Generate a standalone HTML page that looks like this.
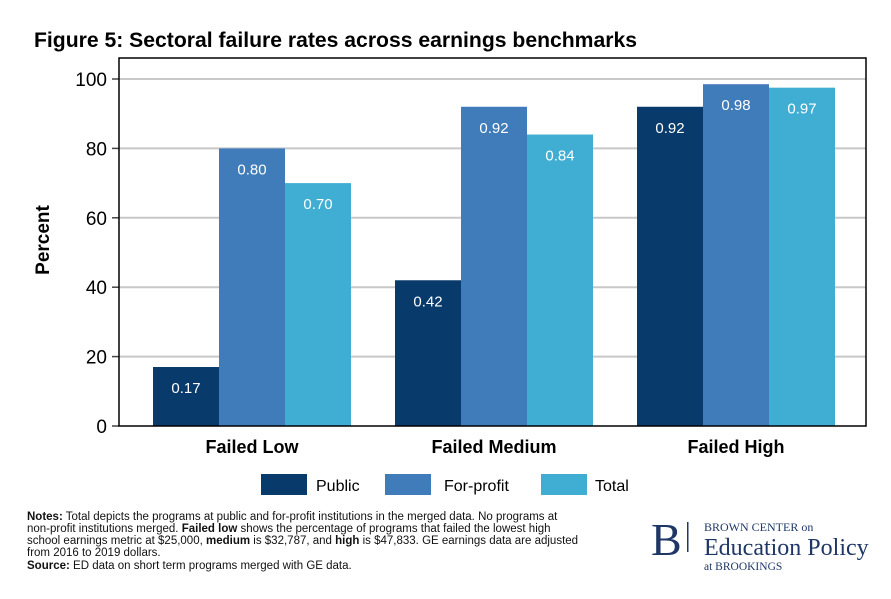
<!DOCTYPE html>
<html><head><meta charset="utf-8"><style>
body{margin:0;background:#fff;width:891px;height:594px;overflow:hidden;font-family:"Liberation Sans",Arial,sans-serif;}
</style></head><body>
<svg width="891" height="594" xmlns="http://www.w3.org/2000/svg" font-family="Liberation Sans, Arial, sans-serif">
<text x="34" y="47" font-size="21" font-weight="bold" fill="#000" textLength="603" lengthAdjust="spacingAndGlyphs">Figure 5: Sectoral failure rates across earnings benchmarks</text>
<g id="grid"></g>
<g id="bars"></g>
<g id="axes"></g>
<text transform="translate(49,240) rotate(-90)" text-anchor="middle" font-size="19" font-weight="bold">Percent</text>
<g>
<rect x="261" y="474" width="46" height="21" fill="#083a6b"/>
<text x="316" y="491" font-size="16">Public</text>
<rect x="385" y="474" width="46" height="21" fill="#417cba"/>
<text x="444" y="491" font-size="16">For-profit</text>
<rect x="541" y="474" width="46" height="21" fill="#40aed2"/>
<text x="595" y="491" font-size="16">Total</text>
</g>
<g font-size="11.5" fill="#111">
<text x="27" y="520"><tspan font-weight="bold">Notes:</tspan> Total depicts the programs at public and for-profit institutions in the merged data. No programs at</text>
<text x="27" y="532">non-profit institutions merged. <tspan font-weight="bold">Failed low</tspan> shows the percentage of programs that failed the lowest high</text>
<text x="27" y="544">school earnings metric at $25,000, <tspan font-weight="bold">medium</tspan> is $32,787, and <tspan font-weight="bold">high</tspan> is $47,833. GE earnings data are adjusted</text>
<text x="27" y="556">from 2016 to 2019 dollars.</text>
<text x="27" y="569"><tspan font-weight="bold">Source:</tspan> ED data on short term programs merged with GE data.</text>
</g>
<g fill="#1f3766" font-family="Liberation Serif, serif">
<text x="651" y="555" font-size="46">B</text>
<rect x="687" y="522" width="1.5" height="30" fill="#1f3766"/>
<text x="704" y="531" font-size="12">BROWN CENTER on</text>
<text x="704" y="555" font-size="24">Education Policy</text>
<text x="704" y="570" font-size="11.5">at BROOKINGS</text>
</g>
</svg>
<script>
const categories=["Failed Low","Failed Medium","Failed High"];
const seriesNames=["Public","For-profit","Total"];
const publicVals=[17,42,92];
const forProfitVals=[80,92,98.5];
const totalVals=[70,84,97.5];
const publicLabels=["0.17","0.42","0.92"];
const forProfitLabels=["0.80","0.92","0.98"];
const totalLabels=["0.70","0.84","0.97"];
const yTicks=[0,20,40,60,80,100];
const NS="http://www.w3.org/2000/svg";
const L=119,R=866,T=58,B=426;
function y(v){return B-v*3.47;}
function xc(i){return 252+i*242;}
function mk(tag,attrs,parent){const e=document.createElementNS(NS,tag);for(const k in attrs)e.setAttribute(k,attrs[k]);parent.appendChild(e);return e;}
const grid=document.getElementById('grid'),bars=document.getElementById('bars'),axes=document.getElementById('axes');
yTicks.forEach(t=>{
 if(t>0){const g=mk('line',{x1:L,x2:R,y1:y(t),y2:y(t),stroke:'#c8c8c8','stroke-width':2},grid);
 
 }
 const tk=mk('line',{x1:L-7,x2:L,y1:y(t),y2:y(t),stroke:'#444','stroke-width':1.5},axes);
 
 
 const tx=mk('text',{x:L-12,y:y(t)+7,'text-anchor':'end','font-size':19},axes);
 tx.textContent=t;
 
 
});
const frame=mk('rect',{x:L,y:T,width:R-L,height:B-T,fill:'none',stroke:'#000','stroke-width':1.5},axes);


const series=[publicVals,forProfitVals,totalVals];
const labels=[publicLabels,forProfitLabels,totalLabels];
const colors=["#083a6b","#417cba","#40aed2"];
categories.forEach((c,i)=>{
 series.forEach((s,j)=>{
  const x0=xc(i)-99+j*66;
  const r=mk('rect',{x:x0,y:y(s[i]),width:66,height:B-y(s[i]),fill:colors[j]},bars);
  
  
  const t=mk('text',{x:x0+33,y:y(s[i])+26,'text-anchor':'middle','font-size':15,fill:'#fff'},bars);
  t.textContent=labels[j][i];
  
  
 });
 const ct=mk('text',{x:xc(i),y:453,'text-anchor':'middle','font-size':18,'font-weight':'bold'},axes);
 ct.textContent=c;
 
 
});
</script>
</body></html>
